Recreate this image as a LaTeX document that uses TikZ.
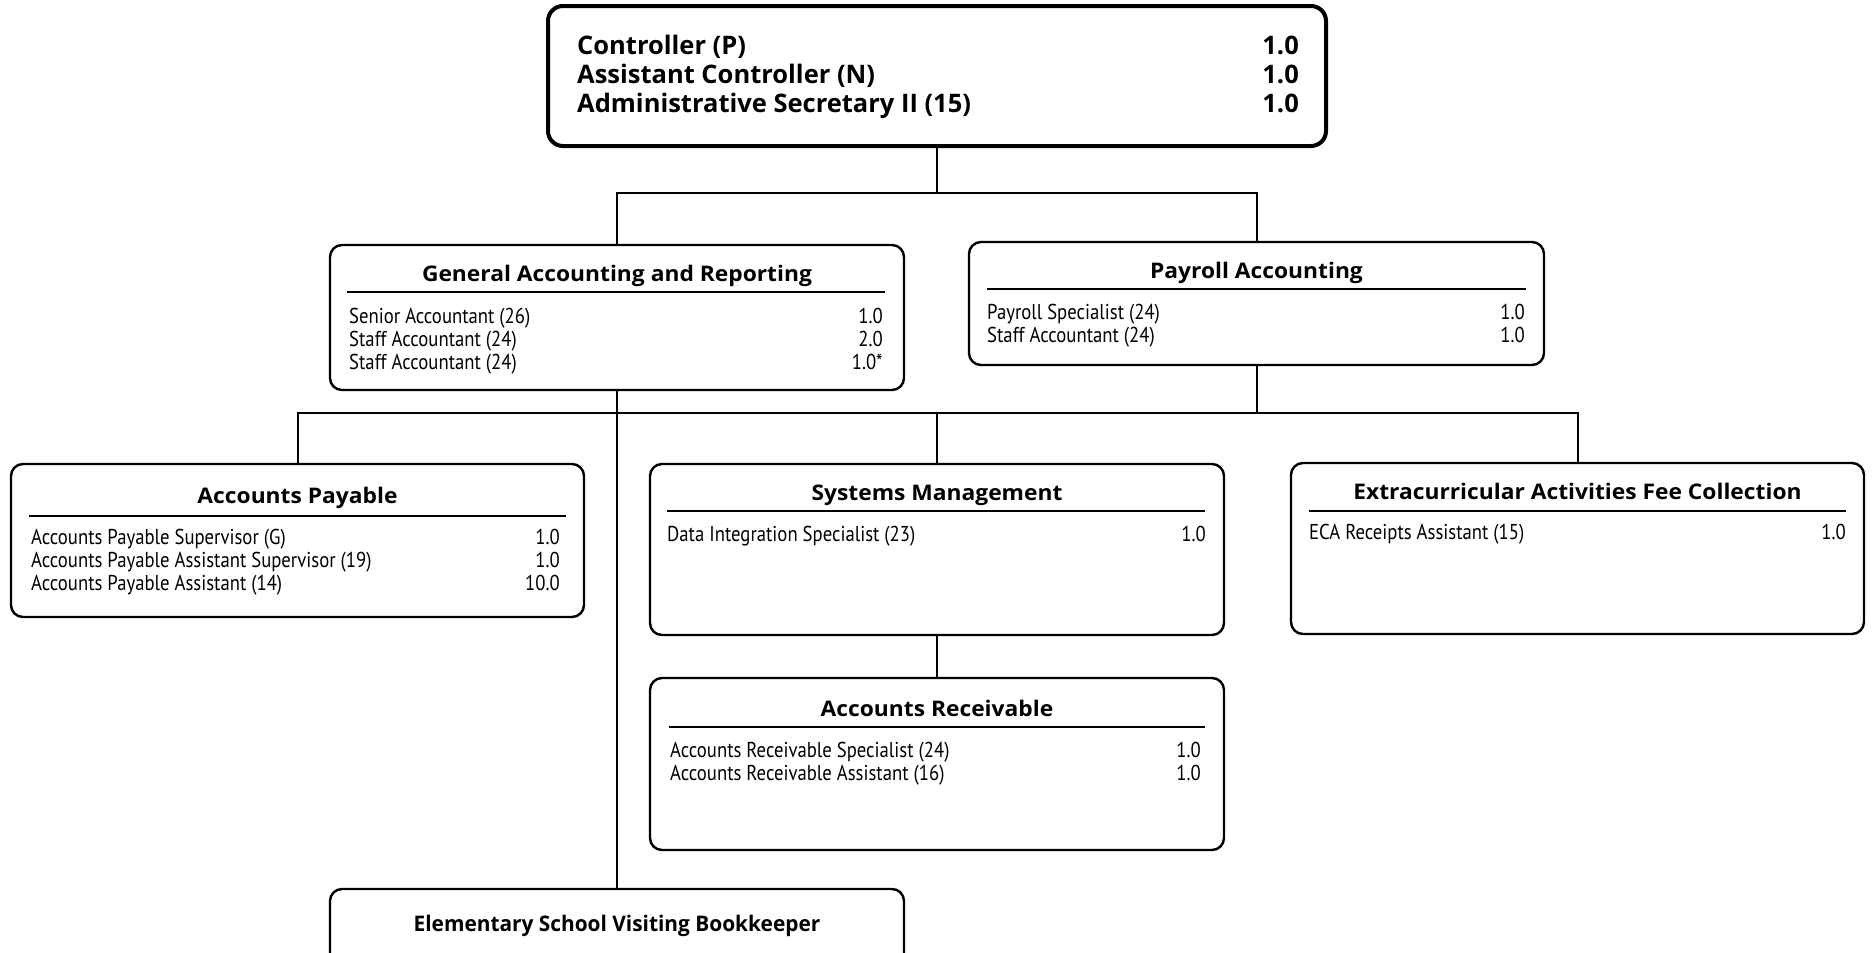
\documentclass[tikz,border=0pt]{standalone}
\usepackage{fontspec}
\setmainfont{PT Sans}
\newfontfamily\bodyfont{PT Sans}[FakeStretch=0.87]
\newfontfamily\ttlfont{Open Sans}[FakeStretch=1.06]
\newfontfamily\narrowttlfont{Open Sans}[FakeStretch=0.97]
\newfontfamily\topfont{Open Sans}
\begin{document}
\begin{tikzpicture}[x=1pt,y=-1pt,
  orgbox/.style={draw, line width=2.4pt, rounded corners=12pt, inner sep=0pt},
  topbox/.style={orgbox, line width=4pt, rounded corners=15pt},
  link/.style={line width=2pt},
  rulel/.style={line width=1.3pt},
  rowtxt/.style={inner sep=0pt, font=\bodyfont\fontsize{21.5}{24}\selectfont},
  ttl/.style={inner sep=0pt, anchor=base, font=\ttlfont\bfseries\fontsize{21.5}{25}\selectfont},
  narrowttl/.style={ttl, font=\narrowttlfont\bfseries\fontsize{21.5}{25}\selectfont},
  toptxt/.style={inner sep=0pt, font=\topfont\bfseries\fontsize{25.5}{29}\selectfont}]
\newcommand\orow[6]{%
  \node[rowtxt, anchor=base west] (#1l) at (#3,#2) {#5};
  \node[rowtxt, anchor=base east] (#1r) at (#4,#2) {#6};}
\useasboundingbox (0,0) rectangle (1872,953);
\clip (0,0) rectangle (1872,953);
% boxes
\node[topbox, minimum width=778pt, minimum height=140pt] (top) at (937,76) {};
\node[orgbox, minimum width=574pt, minimum height=145pt] (gar) at (617,317.5) {};
\node[orgbox, minimum width=575pt, minimum height=123pt] (pay) at (1256.5,303.5) {};
\node[orgbox, minimum width=573pt, minimum height=153pt] (ap) at (297.5,540.5) {};
\node[orgbox, minimum width=574pt, minimum height=171pt] (sm) at (937,549.5) {};
\node[orgbox, minimum width=573pt, minimum height=171pt] (eca) at (1577.5,548.5) {};
\node[orgbox, minimum width=574pt, minimum height=172pt] (ar) at (937,764) {};
\node[orgbox, minimum width=574pt, minimum height=101pt] (esvb) at (617,939.5) {};
% connectors
\coordinate (j1) at (937,193);
\coordinate (j2) at (1256.5,413);
\draw[link] (top.south) -- (j1);
\draw[link] (gar.north) |- (j1) -| (pay.north);
\draw[link] (pay.south) -- (j2);
\draw[link] (ap.north) |- (j2) -| (eca.north);
\draw[link] (sm.north) -- (sm.north |- j2);
\draw[link] (gar.south) -- (esvb.north);
\draw[link] (sm.south) -- (ar.north);
% top box text
\node[toptxt, anchor=base west] (t1l) at (577,54) {Controller (P)};
\node[toptxt, anchor=base east] (t1r) at (1299,54) {1.0};
\node[toptxt, anchor=base west] (t2l) at (577,83) {Assistant Controller (N)};
\node[toptxt, anchor=base east] (t2r) at (1299,83) {1.0};
\node[toptxt, anchor=base west] (t3l) at (577,112) {Administrative Secretary II (15)};
\node[toptxt, anchor=base east] (t3r) at (1299,112) {1.0};
% General Accounting and Reporting
\node[ttl] (garT) at (617,281) {General Accounting and Reporting};
\draw[rulel] (347,292) -- (885,292);
\orow{g1}{323}{349}{883}{Senior Accountant (26)}{1.0}
\orow{g2}{346}{349}{883}{Staff Accountant (24)}{2.0}
\orow{g3}{369}{349}{883}{Staff Accountant (24)}{1.0*}
% Payroll
\node[ttl] (payT) at (1256.5,278) {Payroll Accounting};
\draw[rulel] (987,289) -- (1526,289);
\orow{p1}{319}{987}{1525}{Payroll Specialist (24)}{1.0}
\orow{p2}{342}{987}{1525}{Staff Accountant (24)}{1.0}
% Accounts Payable
\node[ttl] (apT) at (297.5,503) {Accounts Payable};
\draw[rulel] (29,516) -- (566,516);
\orow{a1}{544}{31}{560}{Accounts Payable Supervisor (G)}{1.0}
\orow{a2}{567}{31}{560}{Accounts Payable Assistant Supervisor (19)}{1.0}
\orow{a3}{590}{31}{560}{Accounts Payable Assistant (14)}{10.0}
% Systems Management
\node[ttl] (smT) at (937,500) {Systems Management};
\draw[rulel] (667,511) -- (1205,511);
\orow{s1}{541}{667}{1206}{Data Integration Specialist (23)}{1.0}
% ECA
\node[ttl] (ecaT) at (1577.5,499) {Extracurricular Activities Fee Collection};
\draw[rulel] (1309,511) -- (1846,511);
\orow{e1}{539}{1309}{1846}{ECA Receipts Assistant (15)}{1.0}
% Accounts Receivable
\node[ttl] (arT) at (937,716) {Accounts Receivable};
\draw[rulel] (669,727) -- (1205,727);
\orow{r1}{757}{670}{1201}{Accounts Receivable Specialist (24)}{1.0}
\orow{r2}{780}{670}{1201}{Accounts Receivable Assistant (16)}{1.0}
% Bookkeeper
\node[narrowttl] (esvbT) at (617,931) {Elementary School Visiting Bookkeeper};
\end{tikzpicture}
\end{document}
